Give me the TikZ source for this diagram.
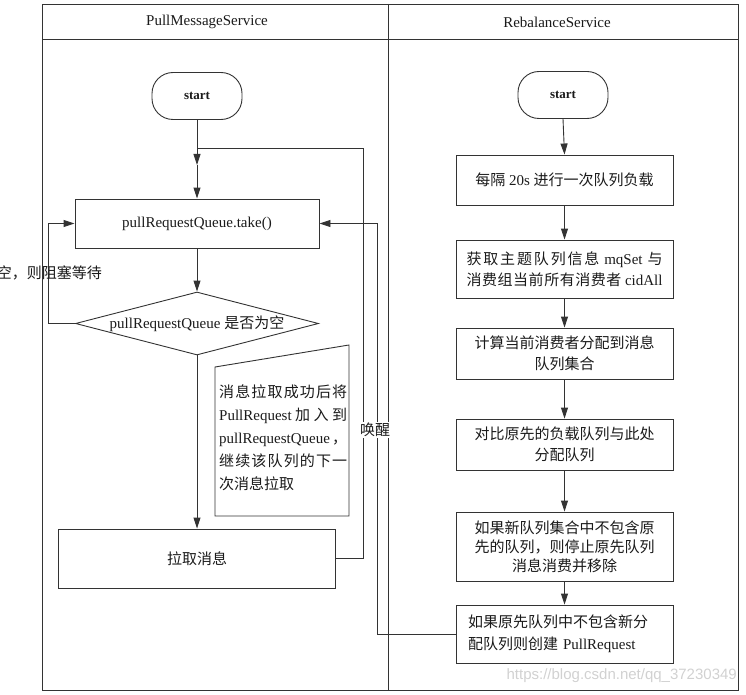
\documentclass[tikz,border=0pt]{standalone}
\usepackage{fontspec}
\setmainfont{Liberation Serif}
\newfontfamily\cjk{Noto Sans CJK SC}
\newfontfamily\wmfont{Liberation Sans}
\usetikzlibrary{arrows.meta,shapes.geometric,calc}
\newcommand{\zh}[1]{{\cjk #1}}
\newcommand{\jline}[2]{\makebox[#1][s]{#2}}
\def\spr#1{\sprfirst#1\relax}
\def\sprfirst#1{#1\sprnext}
\def\sprnext#1{\ifx#1\relax\else\hskip 0pt plus 1fil #1\expandafter\sprnext\fi}
\newcommand{\fs}{\fontsize{15}{21}\selectfont}
\definecolor{lc}{HTML}{333333}
\definecolor{tc}{HTML}{1A1A1A}
\tikzset{
  ln/.style={draw=lc, line width=0.9pt},
  arr/.style={draw=lc, line width=0.9pt, -{Triangle[length=11pt,width=7pt]}},
  box/.style={draw=lc, line width=0.9pt, rectangle, inner sep=0pt, text=tc, font=\fs, align=center},
  startbox/.style={draw=lc, line width=0.9pt, rectangle, rounded corners=21pt, inner sep=0pt,
     minimum width=90pt, minimum height=47pt, text=tc, font=\bfseries\fontsize{13}{15}\selectfont},
  hdr/.style={text=tc, font=\fs, inner sep=0pt},
  lbl/.style={text=tc, font=\fs, inner sep=1pt},
}
\begin{document}
\begin{tikzpicture}[x=1pt,y=-1pt]
\useasboundingbox (0,0) rectangle (746,695);
% frame
\draw[ln] (42,4) rectangle (738,690);
\draw[ln] (42,39) -- (738,39);
\draw[ln] (388,4) -- (388,690);
\node[hdr] (h1) at (207,22) {PullMessageService};
\node[hdr] (h2) at (557,22) {RebalanceService};

% left lane
\node[startbox] (lstart) at (197,96) {start};
\node[box, minimum width=244pt, minimum height=49pt] (take) at (197,223.5) {pullRequestQueue.take()};
\node[box, shape=diamond, aspect=3.86, minimum width=243pt, minimum height=63pt] (dec) at (197,323.5) {pullRequestQueue \zh{是否为空}};
\node[box, minimum width=277pt, minimum height=59pt] (pull) at (197,558.5) {\zh{拉取消息}};

% note
\draw[ln] (215,367) -- (349,345) -- (349,516) -- (215,516) -- cycle;
\node[anchor=north west, inner sep=0pt, align=left, text=tc, font=\fontsize{15}{23}\selectfont] (note) at (219,385)
 {\jline{128pt}{\zh{\spr{消息拉取成功后将}}}\\
  \jline{128pt}{PullRequest\hskip 0pt plus 1fil\zh{\spr{加入到}}}\\
  \jline{128pt}{pullRequestQueue\hskip 0pt plus 1fil\zh{，}}\\
  \jline{128pt}{\zh{\spr{继续该队列的下一}}}\\
  \zh{次消息拉取}};

\coordinate (j) at (197,165);
\draw[arr] (lstart.south) -- (j);
\draw[arr] (j) -- (take.north);
\draw[arr] (take.south) -- (dec.north);
\draw[arr] (dec.south) -- (pull.north);
\coordinate (lx) at (48,323.5);
\draw[arr] (dec.west) -- (lx) |- (take.west);
\node[lbl, anchor=east] (waitlbl) at (103,273) {\zh{空，则阻塞等待}};

% wake line
\coordinate (w1) at (363,148);
\draw[ln] (pull.east) -| (w1) -- (j |- w1);

% right lane
\node[startbox] (rstart) at (563,95) {start};
\node[box, minimum width=217pt, minimum height=50pt] (b1) at (564.5,180) {\zh{每隔} 20s \zh{进行一次队列负载}};
\node[box, minimum width=217pt, minimum height=58pt] (b2) at (564.5,269)
 {\jline{196pt}{\zh{\spr{获取主题队列信息}}\hskip 3pt plus 1fil mqSet\hskip 3pt plus 1fil\zh{与}}\\
  \jline{196pt}{\zh{\spr{消费组当前所有消费者}}\hskip 3pt plus 1fil cidAll}};
\node[box, minimum width=217pt, minimum height=51pt] (b3) at (564.5,353.5)
 {\zh{计算当前消费者分配到消息}\\\zh{队列集合}};
\node[box, minimum width=217pt, minimum height=51pt] (b4) at (564.5,444.5)
 {\zh{对比原先的负载队列与此处}\\\zh{分配队列}};
\node[box, minimum width=217pt, minimum height=69pt, font=\fontsize{15}{19}\selectfont] (b5) at (564.5,546.5)
 {\zh{如果新队列集合中不包含原}\\\zh{先的队列，则停止原先队列}\\\zh{消息消费并移除}};
\node[box, minimum width=217pt, minimum height=58pt, text width=193pt, align=left, font=\fontsize{15}{22}\selectfont] (b6) at (564.5,634)
 {\zh{如果原先队列中不包含新分}\\\zh{配队列则创建} PullRequest};

\draw[arr] (rstart.south) -- (b1.north);
\draw[arr] (b1.south) -- (b2.north);
\draw[arr] (b2.south) -- (b3.north);
\draw[arr] (b3.south) -- (b4.north);
\draw[arr] (b4.south) -- (b5.north);
\draw[arr] (b5.south) -- (b6.north);

\coordinate (rx) at (377,0);
\draw[arr] (b6.west) -- (b6.west -| rx) |- (take.east);

\node[lbl, fill=white, inner sep=1.5pt] (wake) at (375,430) {\zh{唤醒}};

% watermark
\node[anchor=east, inner sep=0pt, text=black!18, font=\wmfont\fontsize{15}{17}\selectfont] (wm) at (737,676) {https://blog.csdn.net/qq\_37230349};
\end{tikzpicture}
\end{document}
